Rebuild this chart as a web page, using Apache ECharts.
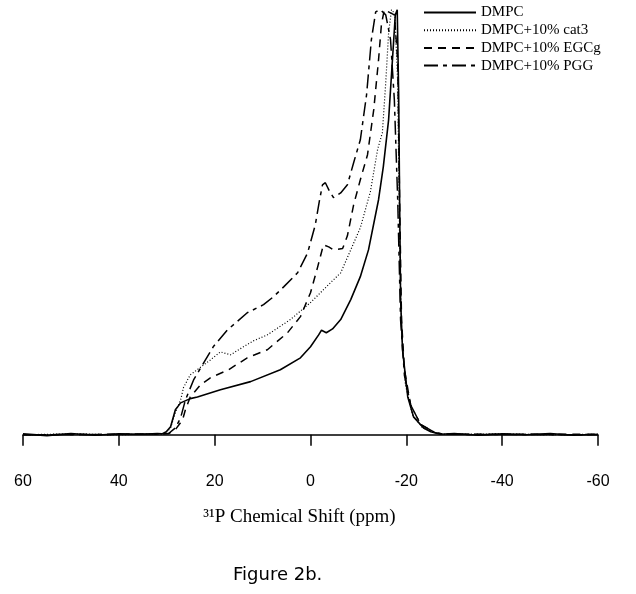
<!DOCTYPE html>
<html>
<head>
<meta charset="utf-8">
<script src="https://cdn.jsdelivr.net/npm/echarts@6/dist/echarts.min.js"></script>
<style>html,body{margin:0;padding:0;background:#fff}#c{width:636px;height:594px}</style>
</head>
<body>
<div id="c"></div>
<script>
// x: chemical shift (ppm), y: normalized intensity
var xTicks = [60, 40, 20, 0, -20, -40, -60];
var seriesNames = ['DMPC', 'DMPC+10% cat3', 'DMPC+10% EGCg', 'DMPC+10% PGG'];

var dmpc = [[60,0.2],[55,-0.2],[50,0.3],[45,-0.1],[40,0.2],[35,0.1],[32,0.3],[31,0.2],[30.1,0.7],[29.2,1.9],[28.2,5.9],[27.1,7.5],[25.1,8.5],[23.6,8.9],[18.8,10.6],[12.5,12.5],[6.3,15.3],[2.1,18.1],[0,20.7],[-1.7,23.5],[-2.3,24.6],[-3.3,24.0],[-4.6,24.9],[-6.3,27.1],[-8.4,31.8],[-10.4,37.2],[-12.1,43.5],[-14.2,55.3],[-15.2,63.1],[-16.3,74.1],[-17.1,88.2],[-17.7,98.8],[-18.1,100],[-18.4,80],[-18.6,55],[-18.8,32],[-19.2,20],[-20.3,8.9],[-21.5,4.2],[-23.6,1.6],[-25.1,0.7],[-27.1,0.1],[-30,0.3],[-35,-0.1],[-40,0.2],[-45,0],[-50,0.3],[-55,-0.1],[-60,0.1]];

var cat3 = [[60,0],[50,0.2],[40,0],[32,0.2],[30.3,0.3],[29.2,1.6],[28.2,5.2],[27.1,8.2],[26.5,11.1],[25.1,14.1],[22.8,16],[20.9,17.6],[18.8,19.5],[16.7,18.8],[14,20.7],[11.9,22.1],[9,23.5],[4.2,27.1],[0,31.1],[-4.2,35.8],[-6.3,38.1],[-8.4,43.5],[-10.4,48.7],[-12.5,57.2],[-14,67.1],[-15,71.1],[-15.7,82.8],[-16.3,94.6],[-16.9,100],[-17.6,99],[-18.2,83],[-18.6,45],[-19,25],[-19.8,11.8],[-21.3,4.7],[-23.4,1.6],[-26.1,0.5],[-28,0.1],[-40,0.2],[-50,0],[-60,0.1]];

var egcg = [[60,0],[40,0.1],[31,0.2],[29.6,0.3],[28.2,1.2],[26.7,3.5],[26.1,5.9],[25.1,8.9],[22.9,11.8],[20.9,13.4],[17.1,15.3],[13.2,18.1],[9,20],[4.8,24],[2.1,27.8],[0,33.4],[-1.5,39.5],[-2.7,44.7],[-3.8,44.2],[-4.8,43.5],[-6.7,43.8],[-7.7,46.8],[-9,54.1],[-10.4,60],[-11.9,65.9],[-13.2,76.5],[-14.2,88.2],[-14.8,96.5],[-15.4,100],[-17.5,98.8],[-18.2,88],[-18.6,55],[-19,27],[-19.6,15.3],[-20.9,7],[-23,2.4],[-26,0.5],[-28,0.1],[-60,0.1]];

var pgg = [[60,0],[40,0.1],[31,0.2],[29.6,0.3],[28.2,1.6],[27.1,4],[26.1,8.2],[24.4,12.9],[22.3,16.9],[20.3,20.7],[17.3,24.7],[13.2,28.7],[9.8,30.6],[7.7,32.5],[5.6,34.8],[2.7,38.1],[0.6,42.8],[-1,49.4],[-1.9,55.3],[-2.5,58.8],[-3.1,59.3],[-4,57.2],[-4.8,55.8],[-6.3,56.9],[-7.7,58.8],[-9,64],[-10.4,69.4],[-11.7,80],[-12.7,92.9],[-13.6,99.5],[-14.6,100],[-15.7,98.8],[-16.7,93],[-17.5,78.8],[-18.2,55.3],[-18.8,27],[-19.6,14],[-20.9,7],[-23,2.4],[-26,0.5],[-28,0.1],[-60,0]];

var chart = echarts.init(document.getElementById('c'), null, {renderer: 'canvas'});
function mk(name, data, type, width) {
  return {
    name: name, type: 'line', data: data, symbol: 'none', showSymbol: false, smooth: false,
    lineStyle: {color: '#000', width: width, type: type},
    itemStyle: {color: '#000'}
  };
}
chart.setOption({
  animation: false,
  backgroundColor: '#fff',
  title: {
    text: 'Figure 2b.', left: 233, top: 566, padding: 0,
    textStyle: {fontFamily: 'DejaVu Sans', fontSize: 18, fontWeight: 'normal', color: '#000'}
  },
  legend: {
    orient: 'vertical', left: 423, top: 5, padding: 0,
    itemWidth: 52, itemHeight: 15, itemGap: 2.7,
    itemStyle: {opacity: 0, borderWidth: 0},
    textStyle: {fontFamily: 'Liberation Serif', fontSize: 15, color: '#000', lineHeight: 15},
    data: seriesNames
  },
  grid: {left: 23, right: 38, top: 5.5, bottom: 138},
  xAxis: {
    type: 'value', inverse: true, min: -60, max: 60, interval: 20,
    axisLine: {show: true, lineStyle: {color: '#000', width: 1.5}},
    axisTick: {show: true, length: 11, lineStyle: {color: '#000', width: 1.5}},
    axisLabel: {color: '#000', fontFamily: 'Liberation Sans', fontSize: 16, margin: 18,
      formatter: function (v) { return xTicks.indexOf(v) >= 0 ? String(v) : ''; }},
    splitLine: {show: false},
    name: '\u00B3\u00B9P Chemical Shift (ppm)', nameLocation: 'middle', nameGap: 52,
    nameTextStyle: {fontFamily: 'Liberation Serif', fontSize: 19, color: '#000', padding: [0, 22, 0, 0]}
  },
  yAxis: {type: 'value', show: false, min: -5, max: 101},
  series: [
    mk(seriesNames[0], dmpc, 'solid', 1.6),
    mk(seriesNames[1], cat3, [1, 2], 1.2),
    mk(seriesNames[2], egcg, [8, 6], 1.5),
    mk(seriesNames[3], pgg, [14, 5, 4, 5], 1.5)
  ]
});
</script>
</body>
</html>
